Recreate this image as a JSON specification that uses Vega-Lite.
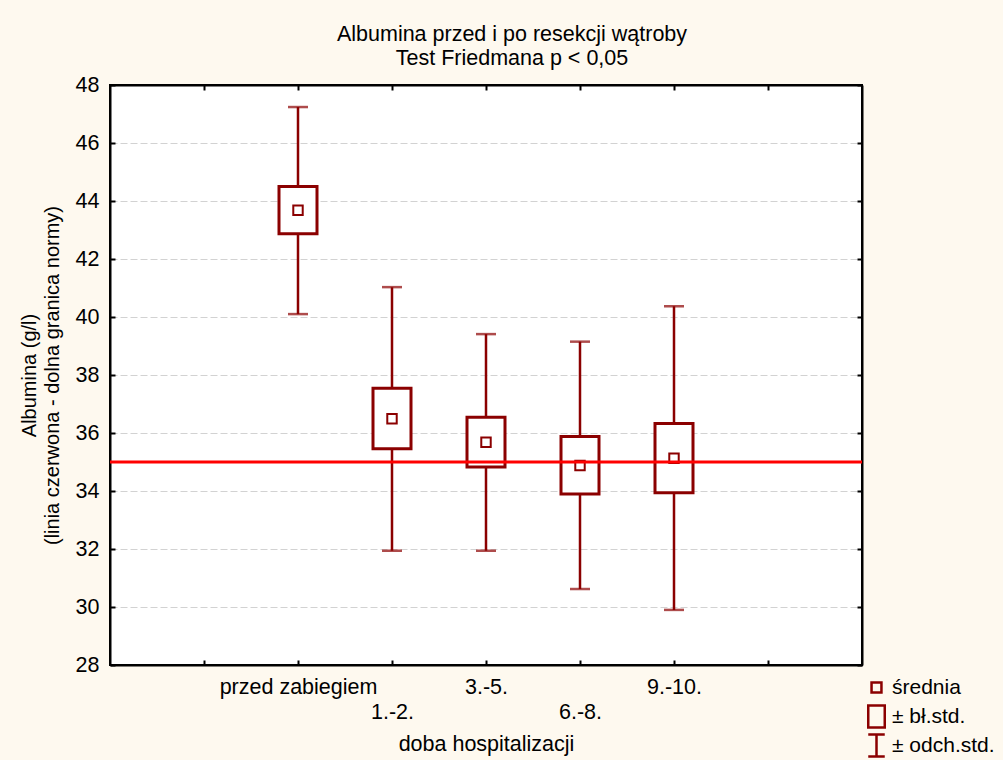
{
  "$schema": "https://vega.github.io/schema/vega-lite/v6.json",
  "width": 752,
  "height": 580,
  "autosize": "none",
  "padding": {"left": 110, "top": 85, "right": 141, "bottom": 95},
  "background": "#FEF9EF",
  "config": {
    "view": {"fill": "white", "stroke": "black", "strokeWidth": 2},
    "font": "Liberation Sans"
  },
  "title": {
    "text": ["Albumina przed i po resekcji wątroby", "Test Friedmana p < 0,05"],
    "fontSize": 21.5,
    "fontWeight": "normal",
    "lineHeight": 24,
    "offset": 5,
    "dx": 26,
    "color": "black",
    "font": "Liberation Sans"
  },
  "data": {
    "values": [
      {"doba": "przed zabiegiem", "mean": 43.68, "se_lo": 42.87, "se_hi": 44.50, "sd_lo": 40.10, "sd_hi": 47.24},
      {"doba": "1.-2.", "mean": 36.49, "se_lo": 35.46, "se_hi": 37.54, "sd_lo": 31.94, "sd_hi": 41.03},
      {"doba": "3.-5.", "mean": 35.68, "se_lo": 34.83, "se_hi": 36.54, "sd_lo": 31.94, "sd_hi": 39.41},
      {"doba": "6.-8.", "mean": 34.88, "se_lo": 33.90, "se_hi": 35.88, "sd_lo": 30.62, "sd_hi": 39.15},
      {"doba": "9.-10.", "mean": 35.13, "se_lo": 33.94, "se_hi": 36.33, "sd_lo": 29.90, "sd_hi": 40.37}
    ]
  },
  "layer": [
    {
      "mark": {"type": "rule", "color": "#8B0000", "strokeWidth": 2.5},
      "encoding": {
        "x": {
          "field": "doba", "type": "nominal",
          "scale": {"type": "point", "padding": 1, "domain": ["_L", "przed zabiegiem", "1.-2.", "3.-5.", "6.-8.", "9.-10.", "_R"]},
          "axis": {
            "orient": "bottom",
            "title": "doba hospitalizacji",
            "titleFontSize": 21.5, "titleFontWeight": "normal", "titleColor": "black", "titlePadding": 11,
            "labelFontSize": 21.5, "labelColor": "black", "labelAngle": 0,
            "labelExpr": "(datum.value == '1.-2.' || datum.value == '6.-8.') ? ['', datum.value] : ((datum.value == '_L' || datum.value == '_R') ? '' : datum.value)",
            "labelBaseline": "top", "labelLineHeight": 25, "labelPadding": 16, "labelOverlap": false, "labelBound": false,
            "tickSize": -5, "tickColor": "black", "tickWidth": 2,
            "domainColor": "black", "domainWidth": 2, "grid": false
          }
        },
        "y": {
          "field": "sd_lo", "type": "quantitative",
          "scale": {"domain": [28, 48], "nice": false, "zero": false},
          "axis": {
            "orient": "left",
            "title": ["Albumina (g/l)", "(linia czerwona - dolna granica normy)"],
            "titleFontSize": 20, "titleFontWeight": "normal", "titleColor": "black", "titleLineHeight": 23, "titlePadding": 13,
            "values": [28, 30, 32, 34, 36, 38, 40, 42, 44, 46, 48],
            "labelFontSize": 21.5, "labelColor": "black", "labelPadding": 16,
            "tickSize": -5, "tickColor": "black", "tickWidth": 2,
            "domainColor": "black", "domainWidth": 2,
            "grid": true, "gridColor": "#d2d2d2", "gridDash": [7, 3], "gridWidth": 1,
            "gridOpacity": {"condition": {"test": "datum.value <= 28 || datum.value >= 48", "value": 0}, "value": 1}
          }
        },
        "y2": {"field": "sd_hi"}
      }
    },
    {
      "mark": {"type": "bar", "size": 38, "fill": "white", "stroke": "#8B0000", "strokeWidth": 3},
      "encoding": {
        "x": {
          "field": "doba", "type": "nominal",
          "scale": {"type": "point", "padding": 1, "domain": ["_L", "przed zabiegiem", "1.-2.", "3.-5.", "6.-8.", "9.-10.", "_R"]},
          "axis": {
            "orient": "top", "title": null, "labels": false,
            "tickSize": -5, "tickColor": "black", "tickWidth": 2,
            "domainColor": "black", "domainWidth": 2, "grid": false
          }
        },
        "y": {
          "field": "se_lo", "type": "quantitative",
          "scale": {"domain": [28, 48], "nice": false, "zero": false},
          "axis": {
            "orient": "right", "title": null, "labels": false,
            "values": [28, 30, 32, 34, 36, 38, 40, 42, 44, 46, 48],
            "tickSize": -5, "tickColor": "black", "tickWidth": 2,
            "domainColor": "black", "domainWidth": 2, "grid": false
          }
        },
        "y2": {"field": "se_hi"}
      }
    },
    {
      "mark": {"type": "tick", "color": "#8B0000", "size": 20, "thickness": 2.5},
      "encoding": {
        "x": {"field": "doba", "type": "nominal", "axis": null,
              "scale": {"type": "point", "padding": 1, "domain": ["_L", "przed zabiegiem", "1.-2.", "3.-5.", "6.-8.", "9.-10.", "_R"]}},
        "y": {"field": "sd_hi", "type": "quantitative", "axis": null,
              "scale": {"domain": [28, 48], "nice": false, "zero": false}}
      }
    },
    {
      "mark": {"type": "tick", "color": "#8B0000", "size": 20, "thickness": 2.5},
      "encoding": {
        "x": {"field": "doba", "type": "nominal", "axis": null,
              "scale": {"type": "point", "padding": 1, "domain": ["_L", "przed zabiegiem", "1.-2.", "3.-5.", "6.-8.", "9.-10.", "_R"]}},
        "y": {"field": "sd_lo", "type": "quantitative", "axis": null,
              "scale": {"domain": [28, 48], "nice": false, "zero": false}}
      }
    },
    {
      "mark": {"type": "point", "filled": false, "color": "#8B0000", "strokeWidth": 2, "size": 440, "opacity": 1},
      "encoding": {
        "x": {"field": "doba", "type": "nominal", "axis": null,
              "scale": {"type": "point", "padding": 1, "domain": ["_L", "przed zabiegiem", "1.-2.", "3.-5.", "6.-8.", "9.-10.", "_R"]}},
        "y": {"field": "mean", "type": "quantitative", "axis": null,
              "scale": {"domain": [28, 48], "nice": false, "zero": false}},
        "shape": {
          "datum": "średnia",
          "scale": {
            "domain": ["średnia", "± bł.std.", "± odch.std."],
            "range": [
              "M-0.45,-0.45H0.45V0.45H-0.45Z",
              "M-0.75,-1H0.75V1H-0.75Z",
              "M-0.75,-1H0.75M0,-1V1M-0.75,1H0.75"
            ]
          },
          "legend": {
            "title": null, "orient": "none", "legendX": 754, "legendY": 590,
            "labelFontSize": 21, "labelColor": "black", "labelOffset": 3,
            "symbolSize": 484, "symbolStrokeWidth": 2.5, "symbolStrokeColor": "#8B0000",
            "symbolFillColor": "transparent", "symbolOpacity": 1, "rowPadding": -4.5, "padding": 0,
            "gridAlign": "all"
          }
        }
      }
    },
    {
      "data": {"values": [{"granica": 35}]},
      "mark": {"type": "rule", "color": "#FF0000", "strokeWidth": 3},
      "encoding": {
        "y": {"field": "granica", "type": "quantitative", "axis": null,
              "scale": {"domain": [28, 48], "nice": false, "zero": false}}
      }
    }
  ],
  "resolve": {"axis": {"x": "independent", "y": "independent"}}
}
